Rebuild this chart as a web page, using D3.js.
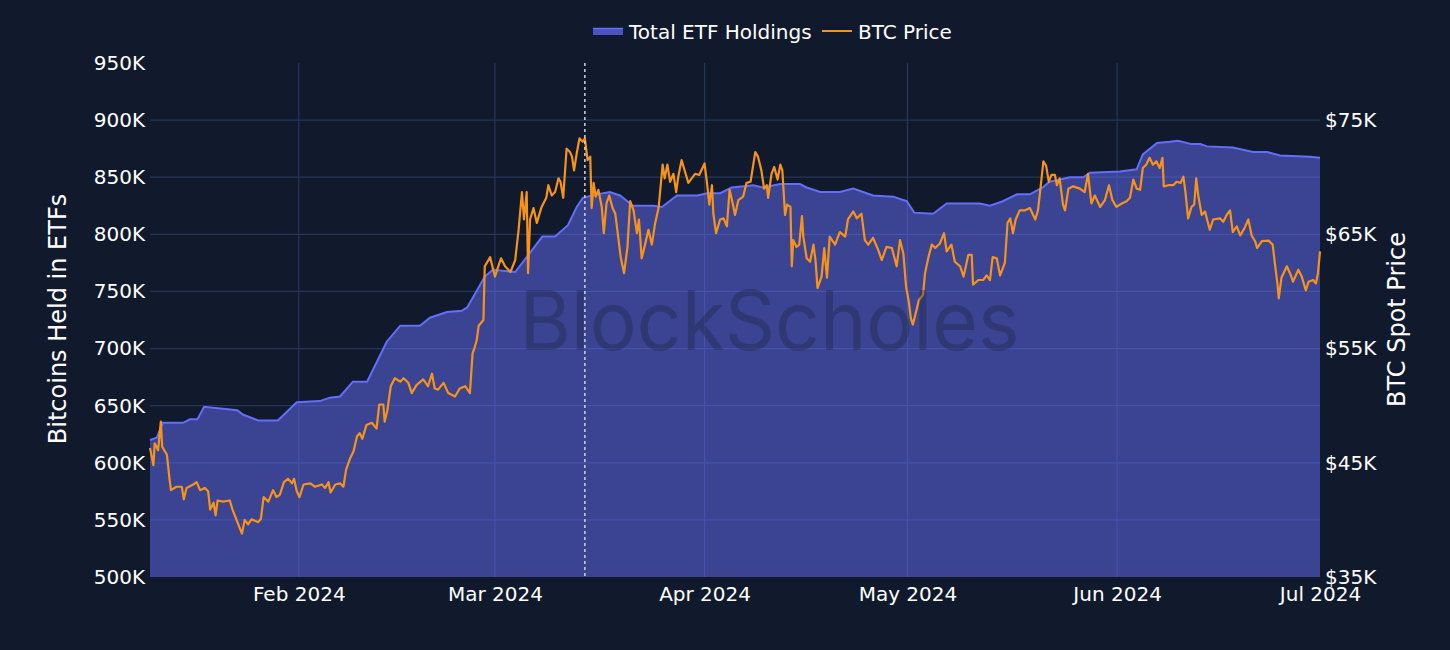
<!DOCTYPE html>
<html>
<head>
<meta charset="utf-8">
<script src="https://cdn.jsdelivr.net/npm/d3@7"></script>
<style>
  html, body { margin: 0; padding: 0; background: #111a2d; }
  svg { display: block; font-family: "DejaVu Sans", sans-serif; }
</style>
</head>
<body>
<svg width="1450" height="650"></svg>
<script>
// days since 2024-01-10 (ETF launch window)
var startDate = new Date(2024, 0, 10);
var endDate = new Date(2024, 6, 1);
var athDay = 64.3;

var etfDays = [0, 1, 1.9, 4.9, 5.9, 7, 8, 12.9, 13.8, 16, 18.9, 21.7, 25.1, 26.6, 28.1, 30, 32.1, 35, 37, 39.9,
    41.4, 43.9, 46.1, 46.9, 49.5, 50.7, 54, 55.7, 58, 59.9, 61.8, 63.1, 64, 66.1, 68, 69.5, 71.4, 74.4, 75.7, 77.9,
    80.9, 82.4, 84.3, 86, 89.2, 90.6, 93.2, 96.1, 97.1, 99.1, 102, 104, 106.9, 109.9, 111.9, 113, 115.8, 117.8, 122.7, 124.2,
    126.1, 128.2, 130.1, 132, 133, 134.6, 136, 138, 139, 143.4, 145.9, 146.8, 148.9, 150.8, 152, 154, 155.3, 156.3, 160.1, 163.1,
    165.2, 167.1, 171.5, 173];
// thousands of BTC
var etfHoldings = [620, 622, 635, 635, 638, 638, 649, 646, 642, 637, 637, 653, 654, 657, 658, 671, 671, 706, 720, 720,
    727, 732, 733, 736, 763, 769, 767, 780, 798, 798, 808, 824, 832, 835, 837, 834, 825, 825, 824, 834,
    834, 836, 836, 841, 843, 841, 844, 844, 841, 837, 837, 840, 834, 833, 829, 819, 818, 827, 827, 825,
    829, 835, 835, 841, 846, 848, 850, 850, 854, 855, 857, 870, 880, 881, 882, 879, 879, 877, 876, 872,
    872, 869, 868, 867];

var btcDays = [0, 0.5, 0.7, 1.2, 1.6, 1.8, 2.5, 2.9, 3.1, 3.9, 4.7, 5.0, 5.4, 6.4, 6.9, 7.4, 8.1, 8.6, 8.9, 9.4,
    9.7, 10.0, 10.8, 11.8, 12.2, 12.8, 13.1, 13.6, 14.0, 14.5, 15.0, 16.0, 16.4, 16.8, 17.5, 18.2, 18.7, 19.2, 19.8, 20.4,
    21.0, 21.3, 21.7, 22.1, 22.7, 23.7, 24.4, 25.4, 25.9, 26.4, 26.7, 27.4, 28.1, 28.6, 29.0, 29.6, 30.1, 30.6, 31.0, 31.4,
    32.0, 32.8, 33.5, 33.9, 34.5, 34.7, 35.1, 35.6, 36.2, 37.0, 37.5, 38.2, 38.7, 39.4, 40.4, 41.1, 41.7, 42.1, 42.6, 43.4,
    44.1, 45.1, 45.8, 46.6, 47.3, 47.7, 47.9, 48.3, 48.6, 49.3, 49.5, 50.3, 50.7, 51.0, 51.5, 51.9, 52.5, 53.3, 54.0, 54.5,
    55.0, 55.3, 55.7, 55.9, 56.2, 56.7, 57.2, 57.9, 58.6, 58.9, 59.4, 59.9, 60.4, 60.7, 61.1, 61.6, 62.1, 62.4, 62.7, 63.1,
    63.5, 64.0, 64.3, 64.7, 65.1, 65.3, 65.6, 65.9, 66.3, 66.8, 67.1, 67.5, 67.9, 68.4, 68.8, 69.2, 69.6, 70.1, 70.6, 71.0,
    71.5, 72.0, 72.3, 72.7, 73.2, 73.7, 74.2, 74.7, 75.2, 75.5, 75.8, 76.1, 76.5, 76.9, 77.4, 77.8, 78.1, 78.6, 79.1, 79.6,
    80.1, 80.6, 81.2, 82.0, 82.3, 82.7, 83.1, 83.3, 83.7, 84.3, 84.8, 85.3, 85.7, 86.2, 86.5, 87.0, 87.7, 88.2, 88.8, 89.5,
    89.9, 90.4, 90.8, 91.2, 91.4, 91.9, 92.3, 92.8, 93.2, 93.5, 93.9, 94.2, 94.7, 94.9, 95.1, 95.6, 96.0, 96.4, 96.6, 97.1,
    97.6, 98.1, 98.4, 98.7, 99.3, 99.7, 100.1, 100.5, 101.3, 102.0, 102.8, 103.2, 104.0, 104.5, 105.2, 105.7, 106.2, 106.9, 107.7, 108.2,
    108.9, 109.7, 110.4, 110.9, 111.4, 111.8, 112.2, 112.5, 112.8, 113.1, 113.7, 114.3, 114.6, 115.1, 115.6, 116.1, 116.8, 117.4, 117.8, 118.5,
    119.0, 119.8, 120.3, 121.0, 121.5, 121.7, 122.5, 123.2, 123.7, 124.2, 124.6, 125.2, 125.7, 126.4, 126.8, 127.2, 127.6, 128.0, 128.6, 129.4,
    130.1, 130.9, 131.3, 131.7, 132.1, 132.5, 132.9, 133.3, 133.8, 134.1, 134.5, 135.0, 135.3, 135.8, 136.5, 137.5, 138.2, 138.7, 139.2, 139.7,
    140.5, 141.2, 141.8, 142.3, 142.9, 143.7, 144.4, 144.9, 145.4, 145.9, 146.4, 146.8, 147.3, 147.8, 148.3, 148.8, 149.3, 149.7, 149.9, 150.6,
    151.3, 151.8, 152.4, 152.8, 153.1, 153.5, 154.0, 154.4, 154.7, 155.0, 155.5, 156.0, 156.7, 157.2, 158.2, 158.7, 159.2, 159.7, 160.1, 160.7,
    161.2, 161.8, 162.4, 162.9, 163.4, 163.7, 164.4, 165.4, 166.0, 166.3, 166.7, 166.9, 167.3, 168.1, 168.7, 169.0, 169.8, 170.3, 170.9, 171.3,
    172.0, 172.4, 172.7, 173.0];
// thousands of USD
var btcPrices = [46.3, 44.8, 46.7, 46.1, 48.6, 46.4, 45.7, 43.5, 42.6, 42.9, 42.9, 41.8, 42.8, 43.1, 43.3, 42.6, 42.8, 42.5, 40.9, 41.5,
    40.4, 41.7, 41.6, 41.7, 40.9, 40.0, 39.55, 38.8, 40.0, 39.6, 40.05, 39.8, 40.1, 42.0, 41.6, 42.6, 42.0, 42.2, 43.3, 43.6,
    43.2, 43.6, 42.5, 42.0, 43.1, 43.2, 42.9, 43.1, 42.8, 43.3, 42.4, 43.1, 43.2, 42.9, 44.4, 45.4, 46.0, 47.3, 47.6, 47.1,
    48.3, 48.5, 48.0, 50.1, 50.1, 48.6, 49.6, 51.7, 52.4, 52.1, 52.4, 52.0, 51.1, 51.8, 52.3, 51.7, 52.8, 51.5, 51.4, 52.0,
    51.1, 50.8, 51.5, 51.7, 51.1, 54.6, 54.9, 55.7, 57.0, 57.5, 62.2, 63.0, 62.0, 61.3, 62.2, 62.9, 62.2, 61.7, 62.75, 65.4,
    68.7, 66.3, 68.7, 61.6, 66.3, 67.3, 66.0, 67.4, 68.2, 69.3, 68.4, 68.7, 69.9, 69.6, 68.2, 72.5, 72.2, 71.8, 70.6, 72.1,
    73.4, 73.1, 73.4, 71.5, 71.8, 67.3, 69.5, 68.3, 68.9, 67.4, 65.1, 67.7, 68.4, 67.3, 66.8, 64.9, 63.0, 61.6, 63.9, 67.9,
    67.1, 65.1, 66.3, 62.9, 64.1, 65.4, 64.1, 66.0, 67.3, 69.2, 71.1, 69.9, 71.1, 69.6, 70.3, 68.7, 70.0, 71.5, 70.5, 69.5,
    69.9, 70.3, 70.2, 71.2, 69.8, 67.6, 69.3, 66.8, 65.1, 66.3, 66.4, 65.7, 68.9, 67.6, 66.7, 68.0, 68.3, 69.5, 69.6, 72.2,
    71.8, 70.6, 69.0, 69.3, 68.2, 70.3, 70.9, 69.8, 71.1, 70.6, 66.7, 67.6, 67.4, 62.2, 64.5, 63.9, 64.1, 66.6, 64.8, 62.9,
    62.6, 64.1, 62.75, 60.3, 61.3, 63.8, 61.2, 64.8, 64.1, 65.2, 64.8, 66.3, 67.0, 66.4, 66.8, 64.5, 64.1, 64.7, 63.6, 62.75,
    63.9, 63.8, 62.2, 64.5, 63.3, 60.4, 59.1, 57.65, 57.1, 57.8, 59.25, 59.7, 61.6, 63.0, 64.1, 63.8, 64.2, 65.1, 63.5, 64.1,
    62.6, 62.2, 61.3, 63.2, 63.2, 60.6, 61.0, 61.0, 61.4, 61.0, 63.0, 62.9, 61.4, 62.5, 66.0, 66.4, 65.1, 66.3, 67.1, 67.1,
    67.3, 66.3, 67.1, 69.2, 71.4, 71.0, 69.6, 70.2, 70.2, 69.3, 69.9, 67.6, 67.1, 69.0, 69.2, 69.0, 68.7, 70.3, 67.7, 68.4,
    67.4, 68.0, 69.3, 68.0, 67.4, 67.7, 67.9, 68.2, 69.8, 69.0, 68.9, 70.8, 71.1, 71.7, 71.1, 71.4, 70.8, 71.7, 69.2, 69.3,
    69.3, 69.6, 69.5, 70.05, 68.7, 66.4, 67.4, 67.6, 69.9, 68.4, 66.7, 67.0, 65.4, 66.3, 66.4, 66.1, 66.7, 67.1, 65.2, 65.7,
    64.9, 65.5, 66.3, 64.9, 64.4, 63.8, 64.4, 64.45, 64.1, 62.6, 60.7, 59.4, 61.2, 62.2, 61.4, 60.85, 61.9, 61.3, 60.1, 60.85,
    61.0, 60.7, 61.6, 63.5];

var holdingsTicks = [500, 550, 600, 650, 700, 750, 800, 850, 900, 950];
var priceTicks = [35, 45, 55, 65, 75];

function dayToDate(d) {
    return new Date(startDate.getTime() + d * 86400000);
}

document.addEventListener('DOMContentLoaded', function () {
    const svg = d3.select('svg');
    const width = 1450, height = 650;
    const margin = { top: 63, bottom: 73, right: 130, left: 150 };
    const innerWidth = width - margin.left - margin.right;
    const innerHeight = height - margin.top - margin.bottom;

    const etfData = etfDays.map((d, i) => ({ date: dayToDate(d), value: etfHoldings[i] }));
    const btcData = btcDays.map((d, i) => ({ date: dayToDate(d), value: btcPrices[i] }));

    const xScale = d3.scaleTime().domain([startDate, endDate]).range([0, innerWidth]);
    const yLeft = d3.scaleLinear().domain([500, 950]).range([innerHeight, 0]);
    const yRight = d3.scaleLinear().domain([35, 80]).range([innerHeight, 0]);

    const g = svg.append('g').attr('transform', `translate(${margin.left},${margin.top})`);

    // grid
    const gridColor = '#263659';
    g.append('g').selectAll('line')
        .data(holdingsTicks.filter(t => t > 500 && t < 950))
        .join('line')
        .attr('x1', 0).attr('x2', innerWidth)
        .attr('y1', d => yLeft(d)).attr('y2', d => yLeft(d))
        .attr('stroke', gridColor).attr('stroke-width', 1.2);
    const monthTicks = d3.timeMonth.range(new Date(2024, 1, 1), endDate);
    g.append('g').selectAll('line')
        .data(monthTicks)
        .join('line')
        .attr('x1', d => xScale(d)).attr('x2', d => xScale(d))
        .attr('y1', 0).attr('y2', innerHeight)
        .attr('stroke', gridColor).attr('stroke-width', 1.2);

    // ETF holdings area
    g.append('path')
        .datum(etfData)
        .attr('fill', 'rgba(99,110,250,0.5)')
        .attr('d', d3.area()
            .x(d => xScale(d.date))
            .y0(innerHeight)
            .y1(d => yLeft(d.value)));
    g.append('path')
        .datum(etfData)
        .attr('fill', 'none')
        .attr('stroke', '#636efa')
        .attr('stroke-width', 2)
        .attr('d', d3.line().x(d => xScale(d.date)).y(d => yLeft(d.value)));

    // BTC price
    g.append('path')
        .datum(btcData)
        .attr('fill', 'none')
        .attr('stroke', '#f7931a')
        .attr('stroke-width', 2.2)
        .attr('stroke-linejoin', 'round')
        .attr('d', d3.line().x(d => xScale(d.date)).y(d => yRight(d.value)));

    // watermark
    g.append('text')
        .attr('x', xScale(dayToDate(91.6)))
        .attr('y', 287)
        .attr('text-anchor', 'middle')
        .attr('font-family', 'Inter, "Noto Sans", sans-serif')
        .attr('font-weight', 400)
        .attr('font-size', 82)
        .attr('textLength', 500)
        .attr('lengthAdjust', 'spacingAndGlyphs')
        .attr('fill', '#1a1f2e')
        .attr('fill-opacity', 0.32)
        .text('BlockScholes');

    // ATH marker
    g.append('line')
        .attr('x1', xScale(dayToDate(athDay))).attr('x2', xScale(dayToDate(athDay)))
        .attr('y1', 0).attr('y2', innerHeight)
        .attr('stroke', '#d0d4e0')
        .attr('stroke-width', 1.5)
        .attr('stroke-dasharray', '3,3');

    // axes
    const leftAxis = d3.axisLeft(yLeft).tickValues(holdingsTicks).tickSize(0).tickPadding(5)
        .tickFormat(d => d + 'K');
    const la = g.append('g').call(leftAxis);
    const rightAxis = d3.axisRight(yRight).tickValues(priceTicks).tickSize(0).tickPadding(5)
        .tickFormat(d => '$' + d + 'K');
    const ra = g.append('g').attr('transform', `translate(${innerWidth},0)`).call(rightAxis);
    const bottomAxis = d3.axisBottom(xScale).tickValues(d3.timeMonth.range(new Date(2024, 1, 1), d3.timeDay.offset(endDate, 1)))
        .tickSize(0).tickPadding(10).tickFormat(d3.timeFormat('%b %Y'));
    const ba = g.append('g').attr('transform', `translate(0,${innerHeight})`).call(bottomAxis);
    [la, ra, ba].forEach(a => {
        a.select('.domain').remove();
        a.selectAll('text').attr('fill', '#ffffff').attr('font-size', 20).attr('font-family', '"DejaVu Sans", sans-serif');
    });

    // axis titles
    svg.append('text')
        .attr('transform', 'translate(66,319) rotate(-90)')
        .attr('text-anchor', 'middle')
        .attr('fill', '#ffffff').attr('font-size', 24)
        .text('Bitcoins Held in ETFs');
    svg.append('text')
        .attr('transform', 'translate(1405,319.5) rotate(-90)')
        .attr('text-anchor', 'middle')
        .attr('fill', '#ffffff').attr('font-size', 24)
        .text('BTC Spot Price');

    // legend
    const legend = svg.append('g');
    legend.append('rect')
        .attr('x', 593).attr('y', 28).attr('width', 30).attr('height', 7)
        .attr('fill', '#4a54c0');
    legend.append('line')
        .attr('x1', 593).attr('x2', 623).attr('y1', 28.5).attr('y2', 28.5)
        .attr('stroke', '#636efa').attr('stroke-width', 1.5);
    legend.append('text')
        .attr('x', 629).attr('y', 38.5)
        .attr('fill', '#ffffff').attr('font-size', 20)
        .text('Total ETF Holdings');
    legend.append('line')
        .attr('x1', 822).attr('x2', 852).attr('y1', 31).attr('y2', 31)
        .attr('stroke', '#f7931a').attr('stroke-width', 2);
    legend.append('text')
        .attr('x', 858).attr('y', 38.5)
        .attr('fill', '#ffffff').attr('font-size', 20)
        .text('BTC Price');
});
</script>
</body>
</html>
